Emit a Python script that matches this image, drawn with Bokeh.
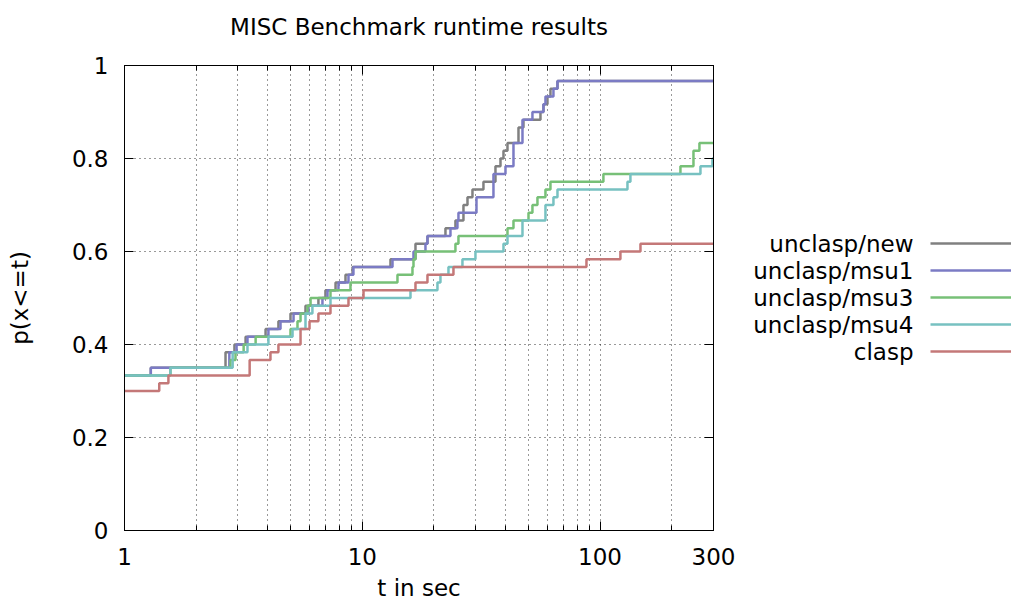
from bokeh.plotting import figure
from bokeh.models import Range1d, FixedTicker, LogAxis, LinearAxis, CustomJSTickFormatter
from bokeh.layouts import row
from bokeh.core.properties import value
from bokeh.embed import file_html
from bokeh.resources import INLINE

N_INSTANCES = 60
T_MAX = 300

# step times (s) and number of solved instances after each step
new_t = [1, 1.29, 2.66, 2.90, 3.23, 3.92, 4.44, 4.99, 5.77, 6.54, 7.00, 7.72, 8.50, 9.10, 13.14, 16.74,
         18.80, 22.38, 24.65, 26.64, 27.70, 29.07, 32.33, 36.32, 38.13, 39.25, 40.80, 45.39, 47.64,
         56.16, 57.81, 60.09, 61.86, 66.21]
new_k = [20, 21, 23, 24, 25, 26, 27, 28, 29, 30, 31, 32, 33, 34, 35, 37,
         38, 39, 40, 42, 43, 44, 45, 47, 48, 49, 50, 52, 53,
         54, 55, 56, 57, 58]

msu1_t = [1, 1.29, 2.76, 2.96, 3.29, 4.03, 4.53, 5.14, 5.94, 6.80, 7.14, 7.94, 8.75, 9.18, 13.40, 16.42,
          18.44, 18.80, 23.49, 25.13, 25.38, 30.22, 35.62, 40.02, 43.24, 47.18, 51.96, 57.81, 58.94,
          63.68, 66.21]
msu1_k = [20, 21, 23, 24, 25, 26, 27, 28, 29, 30, 31, 32, 33, 34, 35, 36,
          37, 38, 39, 40, 41, 43, 46, 47, 50, 53, 54, 55, 56,
          57, 58]

msu3_t = [1, 1.56, 2.79, 2.93, 3.17, 3.56, 4.99, 5.34, 5.50, 5.88, 6.06, 7.35, 8.92, 14.06, 16.26, 16.42,
          16.74, 24.65, 25.38, 40.80, 43.24, 50.01, 51.96, 54.54, 58.94, 61.86, 103.3, 217.8, 247.1, 261.8]
msu3_k = [20, 21, 22, 23, 24, 25, 26, 27, 28, 29, 30, 31, 32, 33, 34, 35,
          36, 37, 38, 39, 40, 41, 42, 43, 44, 45, 46, 47, 49, 50]

msu4_t = [1, 1.56, 2.85, 3.29, 4.03, 5.09, 5.77, 6.17, 7.35, 15.95, 20.71, 21.32, 23.04, 26.38, 29.92,
          39.25, 40.80, 47.18, 58.94, 63.68, 66.21, 130.4, 134.2, 264.4, 297.0]
msu4_k = [20, 21, 23, 24, 25, 26, 28, 29, 30, 31, 32, 33, 34, 35, 36,
          37, 38, 40, 42, 43, 44, 45, 46, 47, 48]

clasp_t = [1, 1.40, 1.53, 3.36, 4.11, 4.44, 5.50, 6.00, 6.54, 7.35, 8.75, 10.12, 16.74, 18.80, 24.18,
           87.67, 121.8, 147.9]
clasp_k = [18, 19, 20, 22, 23, 24, 26, 27, 28, 29, 30, 31, 32, 33, 34,
           35, 36, 37]

labels = ["unclasp/new", "unclasp/msu1", "unclasp/msu3", "unclasp/msu4", "clasp"]
colors = ["#808080", "#7b7bc4", "#77c077", "#77c1c1", "#c47878"]
title_text = "MISC Benchmark runtime results"

x_major = [1, 10, 100, 300]
x_minor = [2, 3, 4, 5, 6, 7, 8, 9, 20, 30, 40, 50, 60, 70, 80, 90, 200]
y_major = [0, 0.2, 0.4, 0.6, 0.8, 1]
y_labels = {0: "0", 0.2: "0.2", 0.4: "0.4", 0.6: "0.6", 0.8: "0.8", 1: "1"}

FONT = "DejaVu Sans"
FS = "23px"

FL, FT, FW, FH = 124, 65, 589, 465   # frame placement
W_MAIN, H = 753, 608

p = figure(width=W_MAIN, height=H, x_axis_type="log", x_range=Range1d(1, T_MAX),
           y_range=Range1d(0, 1), toolbar_location=None, output_backend="svg",
           min_border_left=FL, min_border_right=W_MAIN - FL - FW, min_border_top=FT,
           min_border_bottom=H - FT - FH)
p.outline_line_color = "black"
p.outline_line_width = 1
p.background_fill_color = "white"
p.border_fill_color = "white"

xt = FixedTicker(ticks=x_major, minor_ticks=x_minor)
yt = FixedTicker(ticks=y_major, minor_ticks=[])

for ax in p.xaxis:
    ax.ticker = xt
    ax.major_label_overrides = {1: "1", 10: "10", 100: "100", 300: "300"}
for ax in p.yaxis:
    ax.ticker = yt
    ax.major_label_overrides = y_labels

def style_axis(ax):
    ax.major_tick_in = 9
    ax.major_tick_out = 0
    ax.minor_tick_in = 5
    ax.minor_tick_out = 0
    ax.axis_line_color = "black"
    ax.major_tick_line_color = "black"
    ax.minor_tick_line_color = "black"
    ax.major_label_text_font = FONT
    ax.major_label_text_font_size = FS
    ax.major_label_text_color = "black"
    ax.axis_label_text_font = FONT
    ax.axis_label_text_font_size = FS
    ax.axis_label_text_font_style = "normal"
    ax.axis_label_text_color = "black"

style_axis(p.xaxis[0])
style_axis(p.yaxis[0])
p.yaxis[0].minor_tick_line_color = None
p.xaxis[0].axis_label = "t in sec"
p.yaxis[0].axis_label = "p(x<=t)"
p.xaxis[0].major_label_standoff = 17
p.xaxis[0].axis_label_standoff = 7
p.yaxis[0].major_label_standoff = 16
p.yaxis[0].axis_label_standoff = 36

# mirrored tick marks on the top and right borders (no tick labels);
# the chart title is carried by the top axis' label
blank = CustomJSTickFormatter(code="return ''")
top = LogAxis(ticker=xt, formatter=blank)
right = LinearAxis(ticker=yt, formatter=blank)
for ax in (top, right):
    style_axis(ax)
    ax.major_label_standoff = 0
    ax.major_label_text_font_size = "1px"
top.axis_label = title_text
top.axis_label_standoff = 26
right.minor_tick_line_color = None
p.add_layout(top, "above")
p.add_layout(right, "right")

p.xgrid.ticker = xt
p.ygrid.ticker = yt
for g in (p.xgrid[0], p.ygrid[0]):
    g.grid_line_color = "black"
    g.grid_line_alpha = 0.8
    g.grid_line_dash = "1 4"
    g.grid_line_width = 1
p.xgrid[0].minor_grid_line_color = "black"
p.xgrid[0].minor_grid_line_alpha = 0.8
p.xgrid[0].minor_grid_line_dash = "1 4"

series = [(new_t, new_k), (msu1_t, msu1_k), (msu3_t, msu3_k), (msu4_t, msu4_k), (clasp_t, clasp_k)]
for (ts, ks), c in zip(series, colors):
    xs = list(ts) + [T_MAX]
    ys = [k / N_INSTANCES for k in ks] + [ks[-1] / N_INSTANCES]
    p.step(xs, ys, mode="after", line_color=c, line_width=2.5)

# gnuplot-style legend: right-aligned label followed by a line sample.
# In the row the legend frame is aligned with the main frame, so its y range spans the frame rows.
W_LEG = 1011 - W_MAIN
lf = figure(width=W_LEG, height=H, x_range=Range1d(0, W_LEG), y_range=Range1d(FT + FH, FT),
            toolbar_location=None, output_backend="svg", min_border=0,
            x_axis_location=None, y_axis_location=None)
lf.grid.visible = False
lf.outline_line_color = None
row_y = [243, 270, 297, 324, 351]
lf.text(x=[160] * 5, y=row_y, text=labels, text_align="right", text_baseline="middle",
        text_font=value(FONT), text_font_size=FS, text_color="black")
lf.segment(x0=[177] * 5, y0=row_y, x1=[W_LEG] * 5, y1=row_y, line_color=colors, line_width=2.5)

layout = row(p, lf)
open("out.html", "w").write(file_html(layout, INLINE))
